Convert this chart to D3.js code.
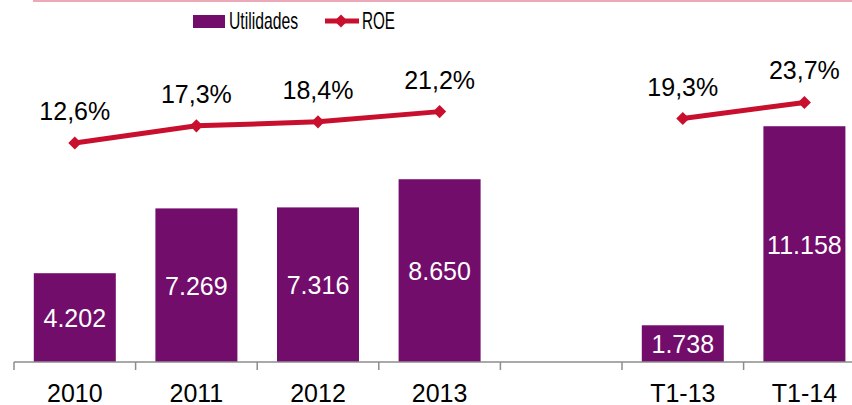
<!DOCTYPE html>
<html>
<head>
<meta charset="utf-8">
<script src="https://cdn.jsdelivr.net/npm/d3@7"></script>
<style>
  body { margin: 0; background: #fff; }
  text { font-family: "Liberation Sans", Arial, sans-serif; }
</style>
</head>
<body>
<script>
const categories = ["2010", "2011", "2012", "2013", "", "T1-13", "T1-14"];
const utilidades = [4202, 7269, 7316, 8650, null, 1738, 11158];
const roe = [12.6, 17.3, 18.4, 21.2, null, 19.3, 23.7];

const width = 852;
const height = 405;
const purple = "#720D6B";
const red = "#C8102E";

const svg = d3
  .select("body")
  .append("svg")
  .attr("width", width)
  .attr("height", height);

// pink rule on top
svg
  .append("line")
  .attr("x1", 33)
  .attr("x2", width)
  .attr("y1", 1)
  .attr("y2", 1)
  .attr("stroke", "#EBA9B9")
  .attr("stroke-width", 2);

const step = 121.6;
const pad = 1 - 82 / step;
const x = d3
  .scaleBand()
  .domain(categories.map((c, i) => i))
  .range([14, 14 + step * categories.length])
  .paddingInner(pad)
  .paddingOuter(pad / 2);

const baseY = 362;
const y = d3.scaleLinear().domain([0, 16000]).range([baseY, baseY - 16000 * 0.02113]);
const y2 = d3.scaleLinear().domain([0, 25]).range([189, 97.75]);

const data = categories.map((c, i) => ({ i, c, u: utilidades[i], r: roe[i] }));

// bars
svg
  .selectAll("rect.bar")
  .data(data.filter((d) => d.u != null))
  .enter()
  .append("rect")
  .attr("class", "bar")
  .attr("x", (d) => x(d.i))
  .attr("width", x.bandwidth())
  .attr("y", (d) => y(d.u))
  .attr("height", (d) => baseY - y(d.u))
  .attr("fill", purple);

const fmtU = (v) => d3.format(",")(v).replace(/,/g, ".");

svg
  .selectAll("text.barlabel")
  .data(data.filter((d) => d.u != null))
  .enter()
  .append("text")
  .attr("class", "barlabel")
  .attr("x", (d) => x(d.i) + x.bandwidth() / 2)
  .attr("y", (d) => (y(d.u) + baseY) / 2 + 9.5)
  .attr("text-anchor", "middle")
  .attr("fill", "#fff")
  .attr("font-size", 25)
  .text((d) => fmtU(d.u));

// axis
svg
  .append("line")
  .attr("x1", 14)
  .attr("x2", width)
  .attr("y1", baseY)
  .attr("y2", baseY)
  .attr("stroke", "#8c8c8c")
  .attr("stroke-width", 1.5);

const edges = data.map((d) => x(d.i) - (x.step() - x.bandwidth()) / 2);
svg
  .selectAll("line.tick")
  .data(edges)
  .enter()
  .append("line")
  .attr("class", "tick")
  .attr("x1", (d) => d)
  .attr("x2", (d) => d)
  .attr("y1", baseY)
  .attr("y2", baseY + 8)
  .attr("stroke", "#8c8c8c")
  .attr("stroke-width", 1.5);

svg
  .selectAll("text.cat")
  .data(data.filter((d) => d.c !== ""))
  .enter()
  .append("text")
  .attr("class", "cat")
  .attr("x", (d) => x(d.i) + x.bandwidth() / 2)
  .attr("y", 402)
  .attr("text-anchor", "middle")
  .attr("font-size", 25)
  .attr("fill", "#000")
  .text((d) => d.c);

// ROE line
const line = d3
  .line()
  .defined((d) => d.r != null)
  .x((d) => x(d.i) + x.bandwidth() / 2)
  .y((d) => y2(d.r));

svg
  .append("path")
  .datum(data)
  .attr("d", line)
  .attr("fill", "none")
  .attr("stroke", red)
  .attr("stroke-width", 5);

const diamond = d3.symbol().type(d3.symbolDiamond2).size(110);

svg
  .selectAll("path.marker")
  .data(data.filter((d) => d.r != null))
  .enter()
  .append("path")
  .attr("class", "marker")
  .attr("d", diamond)
  .attr("transform", (d) => `translate(${x(d.i) + x.bandwidth() / 2},${y2(d.r)})`)
  .attr("fill", red);

svg
  .selectAll("text.roelabel")
  .data(data.filter((d) => d.r != null))
  .enter()
  .append("text")
  .attr("class", "roelabel")
  .attr("x", (d) => x(d.i) + x.bandwidth() / 2)
  .attr("y", (d) => y2(d.r) - 23)
  .attr("text-anchor", "middle")
  .attr("font-size", 25)
  .attr("fill", "#000")
  .text((d) => d.r.toFixed(1).replace(".", ",") + "%");

// legend
const legend = svg.append("g");
legend
  .append("rect")
  .attr("x", 193)
  .attr("y", 15)
  .attr("width", 32)
  .attr("height", 13)
  .attr("fill", purple);
legend
  .append("text")
  .attr("x", 229)
  .attr("y", 29)
  .attr("font-size", 24)
  .attr("textLength", 69)
  .attr("lengthAdjust", "spacingAndGlyphs")
  .text("Utilidades");
legend
  .append("line")
  .attr("x1", 325)
  .attr("x2", 359)
  .attr("y1", 21)
  .attr("y2", 21)
  .attr("stroke", red)
  .attr("stroke-width", 5);
legend
  .append("path")
  .attr("d", diamond)
  .attr("transform", "translate(341,21)")
  .attr("fill", red);
legend
  .append("text")
  .attr("x", 362)
  .attr("y", 29)
  .attr("font-size", 24)
  .attr("textLength", 33)
  .attr("lengthAdjust", "spacingAndGlyphs")
  .text("ROE");
</script>
</body>
</html>
